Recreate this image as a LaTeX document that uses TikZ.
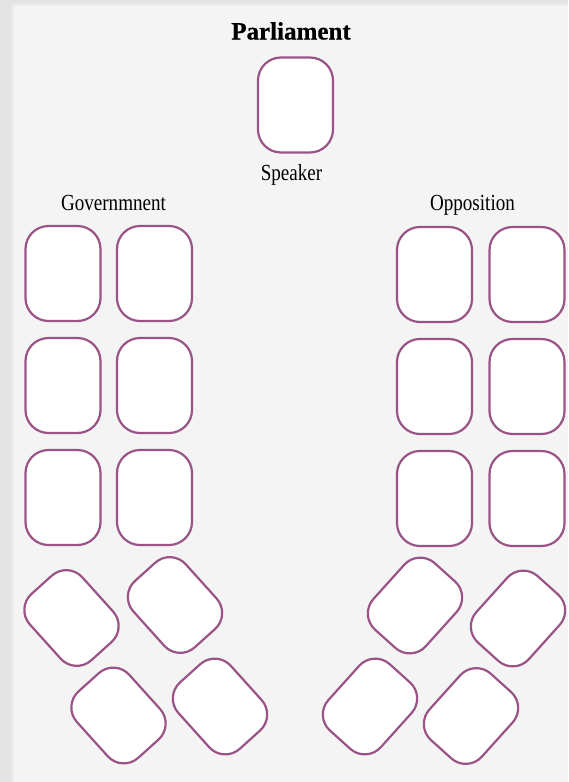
\documentclass[tikz,border=0pt]{standalone}
\usepackage{fontspec}
\setmainfont{Liberation Serif}
\newfontfamily\labfont[FakeStretch=0.83]{Liberation Serif}
\newfontfamily\ttlfont[FakeBold=0.6]{Liberation Serif Bold}
\definecolor{seatc}{HTML}{9A5386}
\definecolor{bgc}{HTML}{F4F4F4}
\definecolor{edgec}{HTML}{E3E3E3}
\begin{document}
\begin{tikzpicture}[x=1pt,y=-1pt,
  seat/.style={draw=seatc, fill=white, line width=2.2pt, rounded corners=23pt,
    minimum width=75pt, minimum height=95pt, inner sep=0pt},
  rseat/.style={draw=seatc, fill=white, line width=2.2pt, rounded corners=21.6pt,
    minimum width=70.5pt, minimum height=89.3pt, inner sep=0pt},
  lab/.style={font=\labfont\fontsize{23}{23}\selectfont, anchor=base, inner sep=0pt},
  ttl/.style={font=\ttlfont\fontsize{25}{25}\selectfont, anchor=base, inner sep=0pt}]
\useasboundingbox (0,0) rectangle (568,782);
\fill[edgec] (0,0) rectangle (568,782);
\fill[bgc!60!edgec] (12,4) rectangle (568,782);
\fill[bgc] (13.5,5.5) rectangle (568,782);
\node[ttl] (title) at (291,39.5) {Parliament};
\node[seat] (speaker) at (295.5,105) {};
\node[lab] (speakerlab) at (291.5,180.7) {Speaker};
\node[lab] (govlab) at (113.5,210.7) {Governmnent};
\node[lab] (opplab) at (472.5,210.7) {Opposition};
% government rows
\node[seat] (g11) at (63,273.5) {};
\node[seat] (g12) at (154.5,273.5) {};
\node[seat] (g21) at (63,385.5) {};
\node[seat] (g22) at (154.5,385.5) {};
\node[seat] (g31) at (63,497.5) {};
\node[seat] (g32) at (154.5,497.5) {};
% opposition rows
\node[seat] (o11) at (434.5,274.5) {};
\node[seat] (o12) at (527,274.5) {};
\node[seat] (o21) at (434.5,386.5) {};
\node[seat] (o22) at (527,386.5) {};
\node[seat] (o31) at (434.5,498.5) {};
\node[seat] (o32) at (527,498.5) {};
% angled government seats
\node[rseat, rotate=42] (ga) at (71.5,618) {};
\node[rseat, rotate=42] (gb) at (175,605) {};
\node[rseat, rotate=42] (gc) at (118.5,715.5) {};
\node[rseat, rotate=42] (gd) at (220,706.5) {};
% angled opposition seats
\node[rseat, rotate=-42] (oa) at (415,605.5) {};
\node[rseat, rotate=-42] (ob) at (518,618.5) {};
\node[rseat, rotate=-42] (oc) at (370,706.5) {};
\node[rseat, rotate=-42] (od) at (471,716) {};
\end{tikzpicture}
\end{document}
